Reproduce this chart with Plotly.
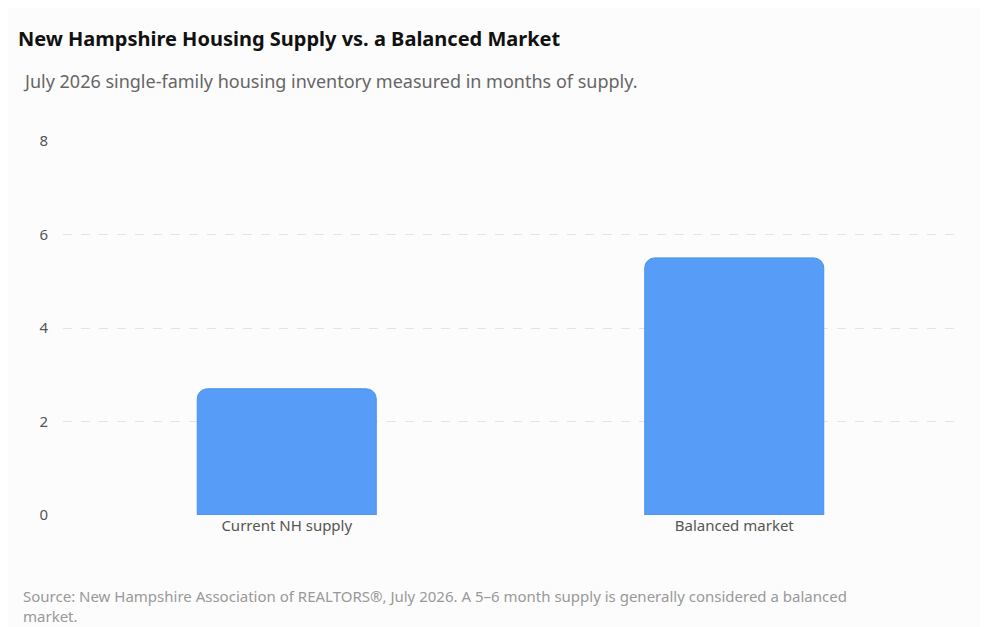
import plotly.graph_objects as go

categories = ["Current NH supply", "Balanced market"]
months_supply = [2.7, 5.5]
y_ticks = [0, 2, 4, 6, 8]

bar_color = "#579DF8"
text_color = "#555555"

fig = go.Figure()

fig.add_trace(
    go.Bar(
        x=categories,
        y=months_supply,
        width=0.4,
        marker=dict(color=bar_color, line=dict(color="#4a90ee", width=1), cornerradius=10),
        hoverinfo="x+y",
    )
)

fig.update_layout(
    width=988,
    height=627,
    paper_bgcolor="#fcfcfc",
    plot_bgcolor="#fcfcfc",
    font=dict(family="Noto Sans, Open Sans, sans-serif", color=text_color),
    showlegend=False,
    margin=dict(l=55, r=38, t=133, b=120),
    title=dict(
        text="<b>New Hampshire Housing Supply vs. a Balanced Market</b>",
        x=0.01, xanchor="left", y=0.95, yanchor="middle",
        font=dict(size=20, color="#111111"),
    ),
    annotations=[
        dict(
            text="July 2026 single-family housing inventory measured in months of supply.",
            xref="paper", yref="paper", x=-0.047, y=1.16, xanchor="left", yanchor="middle",
            showarrow=False, font=dict(size=18, color="#666666"),
        ),
        dict(
            text="Source: New Hampshire Association of REALTORS®, July 2026. A 5–6 month supply is generally considered a balanced<br>market.",
            xref="paper", yref="paper", x=-0.047, y=-0.185, xanchor="left", yanchor="top",
            align="left", showarrow=False, font=dict(size=15, color="#999999"),
        ),
    ],
)

fig.update_xaxes(showgrid=False, showline=False, tickfont=dict(size=15, color=text_color))
fig.update_yaxes(
    range=[0, 8],
    tickvals=y_ticks,
    gridcolor="#e3e3e3",
    griddash="dash",
    zeroline=False,
    tickfont=dict(size=15, color=text_color),
    ticklabelstandoff=14,
)

fig.write_html("out.html")
